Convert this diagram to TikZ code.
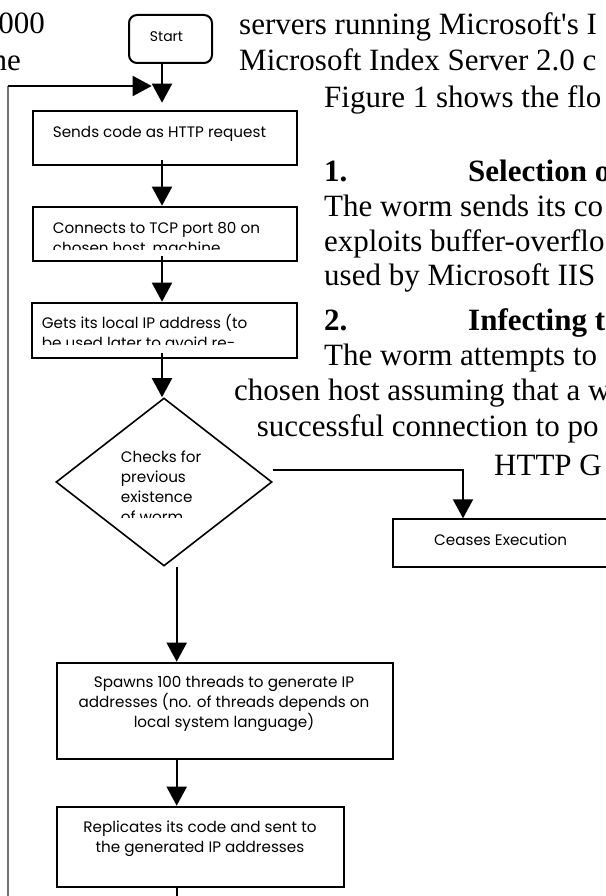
\documentclass[tikz,border=0pt]{standalone}
\usepackage{fontspec}
\setmainfont{Liberation Serif}
\newfontfamily\gothic{Poppins}
\usepackage{tikz}
\usetikzlibrary{shapes.geometric, arrows.meta, positioning, calc}

\begin{document}
\begin{tikzpicture}[x=1pt, y=-1pt,
    procbox/.style={draw, rectangle, line width=2pt, inner sep=0pt, anchor=north west},
    flowtxt/.style={font=\gothic\fontsize{15.2}{20}\selectfont, inner sep=0pt, align=left},
    bodytxt/.style={font=\fontsize{31}{35}\selectfont, inner sep=0pt, anchor=base west},
    headtxt/.style={bodytxt, font=\bfseries\fontsize{31}{35}\selectfont},
    flowarrow/.style={-{Triangle[length=19pt,width=20pt]}, line width=2pt},
    flowline/.style={line width=2pt}]
    \useasboundingbox (0,0) rectangle (605,896);

    % Page text around the figure
    \node[bodytxt, anchor=base east] (colA) at (45,34) {000};
    \node[bodytxt, anchor=base east] (colB) at (21,70.5) {ne};
    \node[bodytxt] (lineA) at (239,35) {servers running Microsoft\textquotesingle s I};
    \node[bodytxt] (lineB) at (239,70.5) {Microsoft Index Server 2.0 c};
    \node[bodytxt] (lineC) at (324,108) {Figure 1 shows the flo};
    \node[headtxt] (headA) at (324,181.7) {1.};
    \node[headtxt] (headAt) at (468,181.7) {Selection o};
    \node[bodytxt] (lineD) at (324,216) {The worm sends its co};
    \node[bodytxt] (lineE) at (324,251) {exploits buffer-overflo};
    \node[bodytxt] (lineF) at (324,285) {used by Microsoft IIS};
    \node[headtxt] (headB) at (324,330) {2.};
    \node[headtxt] (headBt) at (468,330) {Infecting t};
    \node[bodytxt] (lineG) at (324,365) {The worm attempts to};
    \node[bodytxt] (lineH) at (234,400) {chosen host assuming that a w};
    \node[bodytxt] (lineI) at (256.6,436.7) {successful connection to po};
    \node[bodytxt] (lineJ) at (494,475) {HTTP G};

    % Flowchart shapes
    \node[procbox, rounded corners=8pt, minimum width=83pt, minimum height=48pt] (start) at (128,14) {};
    \node[font=\gothic\fontsize{14}{16}\selectfont, inner sep=0pt] (starttxt) at (166.5,37) {Start};
    \node[procbox, minimum width=264.7pt, minimum height=54.3pt] (sendreq) at (31.6,110) {};
    \node[procbox, minimum width=264.7pt, minimum height=54.3pt] (connect) at (31.6,205.7) {};
    \node[procbox, minimum width=265.3pt, minimum height=55pt] (getip) at (31,301.7) {};
    \node[draw, diamond, line width=1.6pt, inner sep=0pt, minimum width=216pt, minimum height=168pt] (check) at (164,482) {};
    \node[procbox, minimum width=230pt, minimum height=47.5pt] (cease) at (392,518.3) {};
    \node[procbox, minimum width=336.4pt, minimum height=96pt] (spawn) at (56,661.7) {};
    \node[procbox, minimum width=287.4pt, minimum height=80pt] (replicate) at (56,805.7) {};

    % Box texts (cut off at the box bottom like the original)
    \node[flowtxt, anchor=base west] (sendtxt) at (52.7,137.3) {Sends code as HTTP request};
    \begin{scope}
        \clip (31,205.7) rectangle (297,249);
        \node[flowtxt, anchor=base west] (conntxt) at (52.7,253) {Connects to TCP port 80 on\\chosen host, machine};
    \end{scope}
    \begin{scope}
        \clip (31,301.7) rectangle (297,344.5);
        \node[flowtxt, anchor=base west] (iptxt) at (41.7,348.3) {Gets its local IP address (to\\be used later to avoid re-};
    \end{scope}
    \begin{scope}
        \clip (56,430) rectangle (272,517.4);
        \node[flowtxt, anchor=base west] (checktxt) at (120.7,522) {Checks for\\previous\\existence\\of worm};
    \end{scope}
    \node[flowtxt, anchor=base west] (ceasetxt) at (434,545) {Ceases Execution};
    \node[flowtxt, align=center, anchor=base] (spawntxt) at (224,727.5) {Spawns 100 threads to generate IP\\addresses (no. of threads depends on\\local system language)};
    \node[flowtxt, align=center, anchor=base] (repltxt) at (200,852) {Replicates its code and sent to\\the generated IP addresses};

    % Connectors
    \coordinate (spine) at (162,0);
    \coordinate (spineb) at (176.7,0);
    \coordinate (join) at (162,102.7);
    \coordinate (loopin) at (151.7,86);
    \coordinate (loopcorner) at (8,86);
    \coordinate (loopbottom) at (8,896);
    \coordinate (branch) at (463,470);

    \draw[black!55, line width=1.3pt] (loopbottom) -- (loopcorner);
    \draw[flowarrow] (loopcorner) -- (loopin);
    \draw[flowarrow] (spine |- start.south) -- (join);
    \draw[flowarrow] ([yshift=6pt]spine |- sendreq.south) -- (spine |- connect.north);
    \draw[flowarrow] ([yshift=6pt]spine |- connect.south) -- (spine |- getip.north);
    \draw[flowarrow] ([yshift=6pt]spine |- getip.south) -- (spine |- check.north);
    \draw[flowarrow] (check.east |- branch) -- (branch) -- (branch |- cease.north);
    \draw[flowarrow] (spineb |- check.south) -- (spineb |- spawn.north);
    \draw[flowarrow] (spineb |- spawn.south) -- (spineb |- replicate.north);
    \draw[flowline] (spineb |- replicate.south) -- (spineb |- loopbottom);
\end{tikzpicture}
\end{document}
